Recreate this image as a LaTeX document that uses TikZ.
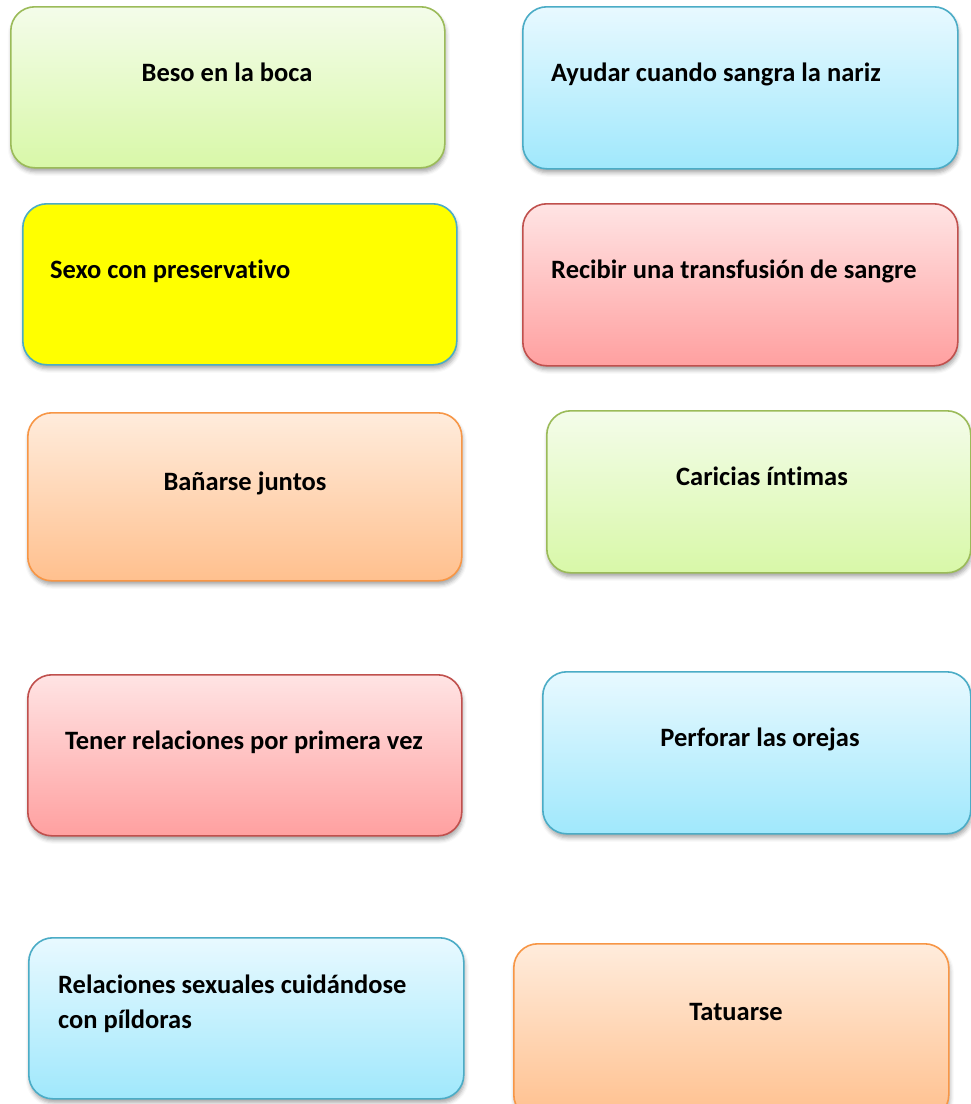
\documentclass[tikz,border=0pt]{standalone}
\usepackage{fontspec}
\setmainfont{Carlito}[Ligatures=NoCommon]
\usetikzlibrary{shadows,shadows.blur}
\definecolor{gTop}{RGB}{244,252,234}
\definecolor{gBot}{RGB}{216,248,168}
\definecolor{gLine}{RGB}{155,187,89}
\definecolor{bTop}{RGB}{232,249,255}
\definecolor{bBot}{RGB}{160,232,252}
\definecolor{bLine}{RGB}{75,172,198}
\definecolor{rTop}{RGB}{255,228,228}
\definecolor{rBot}{RGB}{255,160,160}
\definecolor{rLine}{RGB}{192,80,77}
\definecolor{oTop}{RGB}{255,236,220}
\definecolor{oBot}{RGB}{255,192,142}
\definecolor{oLine}{RGB}{247,150,70}
\definecolor{yFill}{RGB}{255,255,0}
\tikzset{
  boxbase/.style={rectangle, rounded corners=24pt, line width=1.6pt, anchor=north west, inner sep=0pt,
    blur shadow={shadow xshift=1pt, shadow yshift=-4pt, shadow blur radius=4pt, shadow opacity=35}},
  greenbox/.style={boxbase, draw=gLine, top color=gTop, bottom color=gBot},
  bluebox/.style={boxbase, draw=bLine, top color=bTop, bottom color=bBot},
  redbox/.style={boxbase, draw=rLine, top color=rTop, bottom color=rBot},
  orangebox/.style={boxbase, draw=oLine, top color=oTop, bottom color=oBot},
  yellowbox/.style={boxbase, draw=bLine, fill=yFill},
  txt/.style={font=\fontsize{26.5}{35}\selectfont\bfseries, text=black, inner sep=0pt},
  ctxt/.style={txt, anchor=base},
  ltxt/.style={txt, anchor=base west},
}
\begin{document}
\begin{tikzpicture}[x=1pt,y=-1pt]
\useasboundingbox (0,0) rectangle (971,1104);
% boxes
\node[greenbox, minimum width=434pt, minimum height=161pt] (b1) at (10,6) {};
\node[bluebox, minimum width=435pt, minimum height=162pt] (b2) at (522,6) {};
\node[yellowbox, minimum width=434pt, minimum height=161pt] (b3) at (22,203) {};
\node[redbox, minimum width=435pt, minimum height=162pt] (b4) at (522,203) {};
\node[orangebox, minimum width=434pt, minimum height=168pt] (b5) at (27,412) {};
\node[greenbox, minimum width=424pt, minimum height=162pt] (b6) at (546,410) {};
\node[redbox, minimum width=434pt, minimum height=161pt] (b7) at (27,674) {};
\node[bluebox, minimum width=428pt, minimum height=162pt] (b8) at (542,671) {};
\node[bluebox, minimum width=435pt, minimum height=161pt] (b9) at (28,937) {};
\node[orangebox, minimum width=435pt, minimum height=175pt] (b10) at (513,943) {};
% texts
\node[ctxt] (t1) at (227,81) {Beso en la boca};
\node[ltxt] (t2) at (551,81) {Ayudar cuando sangra la nariz};
\node[ltxt] (t3) at (50,278) {Sexo con preservativo};
\node[ltxt] (t4) at (551,278) {Recibir una transfusión de sangre};
\node[ctxt] (t5) at (245,490) {Bañarse juntos};
\node[ctxt] (t6) at (762,485) {Caricias íntimas};
\node[ctxt] (t7) at (244,749) {Tener relaciones por primera vez};
\node[ctxt] (t8) at (760,746) {Perforar las orejas};
\node[ltxt] (t9a) at (58,993) {Relaciones sexuales cuidándose};
\node[ltxt] (t9b) at (58,1028) {con píldoras};
\node[ctxt] (t10) at (736,1020) {Tatuarse};
\end{tikzpicture}
\end{document}
